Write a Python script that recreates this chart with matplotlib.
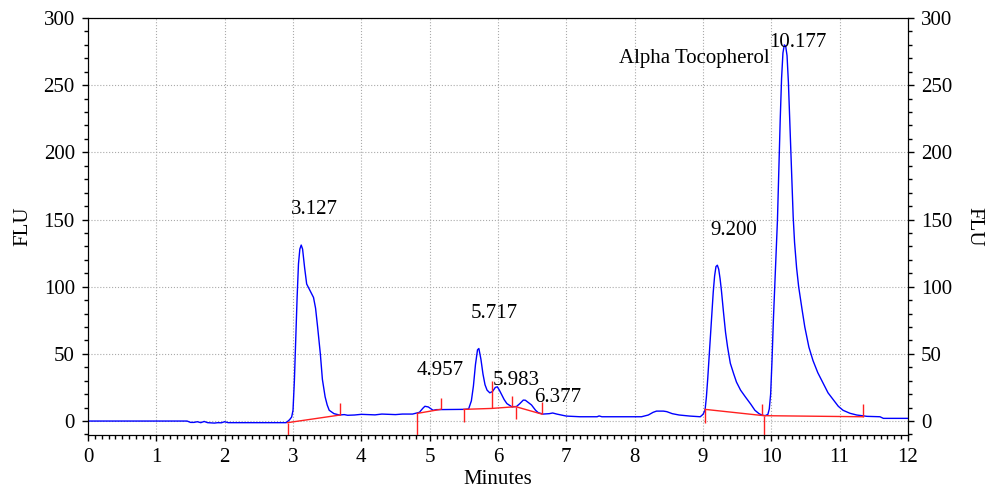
import matplotlib.pyplot as plt
from matplotlib.ticker import MultipleLocator

plt.rcParams['font.family'] = ['Liberation Serif', 'DejaVu Serif']
plt.rcParams['font.size'] = 15

# chromatogram trace (minutes, FLU)
t = [0.0, 1.45, 1.5, 1.55, 1.6, 1.65, 1.7, 1.75, 1.85, 1.9, 1.95, 2.0, 2.05, 2.9,
     2.95, 2.98, 3.0, 3.02, 3.04, 3.06, 3.08, 3.10, 3.12, 3.14, 3.17, 3.20, 3.25,
     3.30, 3.33, 3.36, 3.40, 3.43, 3.47, 3.50, 3.53, 3.60, 3.68, 3.75, 3.8, 3.9,
     4.0, 4.2, 4.3, 4.5, 4.6, 4.75, 4.85, 4.90, 4.93, 4.98, 5.05, 5.1, 5.5, 5.57,
     5.61, 5.64, 5.67, 5.70, 5.72, 5.75, 5.78, 5.81, 5.84, 5.88, 5.92, 5.96, 5.99,
     6.02, 6.05, 6.09, 6.13, 6.2, 6.27, 6.32, 6.37, 6.40, 6.45, 6.49, 6.55, 6.59,
     6.66, 6.75, 6.8, 6.86, 6.95, 7.0, 7.2, 7.45, 7.48, 7.52, 7.95, 8.1, 8.2, 8.27,
     8.32, 8.42, 8.47, 8.55, 8.65, 8.81, 8.96, 9.0, 9.03, 9.05, 9.07, 9.09, 9.11,
     9.13, 9.15, 9.17, 9.19, 9.21, 9.23, 9.25, 9.27, 9.30, 9.33, 9.36, 9.40, 9.45,
     9.49, 9.55, 9.62, 9.70, 9.76, 9.82, 9.86, 9.91, 9.95, 9.97, 9.99, 10.01,
     10.03, 10.06, 10.09, 10.11, 10.13, 10.15, 10.17, 10.19, 10.21, 10.23, 10.25,
     10.27, 10.30, 10.32, 10.34, 10.37, 10.40, 10.45, 10.49, 10.55, 10.61, 10.68,
     10.76, 10.83, 10.91, 10.98, 11.05, 11.15, 11.25, 11.4, 11.59, 11.64, 12.0]
flu = [0, 0, -1, -1, -0.5, -1.2, -0.3, -1.2, -1.5, -1.2, -1.3, -0.5, -1.2, -1.2,
       1, 3, 8, 30, 60, 92, 117, 128, 131, 128, 114, 102, 97,
       92, 84, 70, 50, 31, 18, 12, 8, 5.5, 4.5, 4.8, 4.3, 4.5,
       5, 4.6, 5.2, 4.8, 5.2, 5.2, 6.5, 9.5, 11, 10.5, 8, 8.5, 8.7, 9,
       15, 26, 42, 53, 54, 46, 35, 27, 23, 21, 22, 25, 25.5,
       23, 20, 16, 13, 10.7, 10.8, 13, 15.6, 15.5, 13.5, 12, 8, 6.2,
       5.2, 5.5, 6, 5.2, 4.2, 3.7, 3.2, 3.2, 3.8, 3.2, 3.2, 3.2, 4.5, 6.5,
       7.4, 7.4, 7, 5.5, 4.5, 3.7, 3.2, 5, 8, 18, 32, 48, 65,
       80, 96, 108, 115, 116, 113, 106, 97, 81, 66, 55, 43, 35,
       29, 23, 18, 12.5, 8, 5.5, 4.5, 4, 5, 9, 20, 45,
       75, 112, 150, 187, 224, 255, 274, 280, 279, 272, 252,
       224, 182, 152, 133, 114, 100, 83, 70, 55, 45, 36,
       28, 21, 15.6, 11, 8, 5.8, 4.5, 3.5, 3.2, 2, 2]

# integration baselines (red)
base_t = [[2.92, 3.69], [4.82, 5.16], [5.50, 5.91, 6.26, 6.64], [9.03, 9.89, 11.34]]
base_y = [[-1.2, 4.5], [5.7, 8.7], [8.7, 9.4, 10.7, 5.2], [8.7, 4.0, 3.2]]

# peak start/end marks: time, from, to
mark_t = [2.92, 3.69, 4.82, 5.16, 5.50, 5.91, 6.20, 6.26, 6.64, 9.03, 9.86, 9.89, 11.34]
mark_y0 = [-1.2, 4.5, 5.7, 8.7, 8.7, 9.4, 10.5, 10.7, 5.2, 8.7, 4.2, 4.0, 3.2]
mark_y1 = [-10.5, 13.6, -10.5, 17.4, -0.5, 30, 19, 1.5, 13.9, -1.2, 13, -10.5, 12.7]

# peak labels
lab_text = ['3.127', '4.957', '5.717', '5.983', '6.377', '9.200', '10.177', 'Alpha Tocopherol']
lab_x = [3.32, 5.15, 5.94, 6.26, 6.88, 9.45, 10.39, 8.88]
lab_y = [153.9, 34.3, 76.7, 26.8, 14.4, 138.5, 278.7, 266.3]

fig = plt.figure(figsize=(9.98, 4.97), dpi=100)
ax = fig.add_axes([0.0882, 0.1247, 0.8216, 0.8391])

ax.plot(t, flu, color='blue', lw=1.0, zorder=3)
for bt, by in zip(base_t, base_y):
    ax.plot(bt, by, color='#ff2020', lw=1.0, zorder=4)
ax.vlines(mark_t, mark_y0, mark_y1, color='#ff2020', lw=1.0, zorder=4)

for s, x, y in zip(lab_text, lab_x, lab_y):
    ax.text(x, y, s, ha='center', va='baseline', fontsize=15)

ax.set_xlim(0, 12)
ax.set_ylim(-10.4, 300)
ax.xaxis.set_major_locator(MultipleLocator(1))
ax.xaxis.set_minor_locator(MultipleLocator(0.1))
ax.yaxis.set_major_locator(MultipleLocator(50))
ax.yaxis.set_minor_locator(MultipleLocator(10))
ax.grid(True, which='major', color='#aaaaaa', ls=':', lw=0.8)
ax.tick_params(which='major', length=4.5, width=1, pad=5, labelsize=15)
ax.tick_params(which='minor', length=2.8, width=1)
ax.set_xlabel('Minutes', fontsize=15, labelpad=2)
ax.set_ylabel('FLU', fontsize=15, labelpad=8)

ax2 = ax.twinx()
ax2.set_ylim(ax.get_ylim())
ax2.yaxis.set_major_locator(MultipleLocator(50))
ax2.yaxis.set_minor_locator(MultipleLocator(10))
ax2.tick_params(which='major', length=4.5, width=1, pad=5, labelsize=15)
ax2.tick_params(which='minor', length=2.8, width=1)
ax2.set_ylabel('FLU', fontsize=15, rotation=270, labelpad=22)

fig.savefig('out.png', dpi=100)
